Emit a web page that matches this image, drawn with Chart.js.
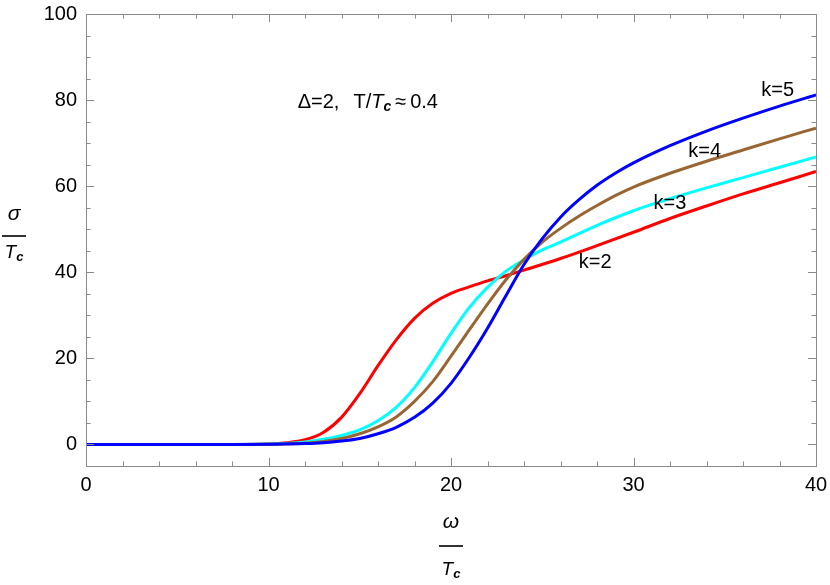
<!DOCTYPE html>
<html>
<head>
<meta charset="utf-8">
<script src="https://cdn.jsdelivr.net/npm/chart.js@4.4.1/dist/chart.umd.min.js"></script>
<style>
  html, body { margin: 0; padding: 0; background: #fff; }
  #wrap { width: 830px; height: 585px; }
</style>
</head>
<body>
<div id="wrap"><canvas id="c"></canvas></div>
<script>
/* σ/Tc vs ω/Tc, Δ=2, T/Tc≈0.4 */

const X_TICKS = [0, 10, 20, 30, 40];
const Y_TICKS = [0, 20, 40, 60, 80, 100];

const X_K2 = [0, 8, 10, 11, 12, 13, 14, 15, 16, 17, 18, 19, 20, 21, 22, 23, 24, 26, 28, 30, 32, 34, 36, 38, 40];
const Y_K2 = [0, 0, 0.1, 0.4, 1.1, 2.8, 6.3, 11.8, 18.3, 24.3, 29.3, 32.8, 35.1, 36.6, 38, 39.2, 40.5, 43.2, 46.2, 49.3, 52.5, 55.4, 58.2, 60.8, 63.4];

const X_K3 = [0, 8, 10, 12, 13, 14, 15, 16, 17, 18, 19, 20, 21, 22, 23, 24, 25, 26, 28, 30, 32, 34, 36, 38, 40];
const Y_K3 = [0, 0, 0.1, 0.6, 1.2, 2.1, 3.4, 5.5, 8.6, 13.2, 19.2, 25.8, 31.8, 36.5, 40.2, 42.9, 45.2, 47.0, 50.9, 54.3, 57.1, 59.6, 62.0, 64.4, 66.8];

const X_K4 = [0, 8, 10, 12, 13, 14, 15, 16, 17, 18, 19, 20, 21, 22, 23, 24, 25, 26, 27, 28, 29, 30, 32, 34, 36, 38, 40];
const Y_K4 = [0, 0, 0.05, 0.3, 0.7, 1.4, 2.5, 4.1, 6.4, 10.0, 14.6, 20.5, 26.6, 32.6, 38.2, 43.0, 47.0, 50.2, 53.0, 55.5, 57.8, 59.8, 63.0, 65.8, 68.4, 71.0, 73.5];

const X_K5 = [0, 8, 10, 12, 13, 14, 15, 16, 17, 18, 19, 20, 21, 22, 23, 24, 25, 26, 27, 28, 29, 30, 32, 34, 36, 38, 40];
const Y_K5 = [0, 0, 0.05, 0.2, 0.4, 0.8, 1.4, 2.5, 4.0, 6.3, 9.6, 14.2, 20.2, 27.0, 34.5, 41.8, 47.8, 52.8, 56.8, 60.2, 63.0, 65.4, 69.4, 72.8, 75.8, 78.6, 81.2];

const CURVE_LABELS = ['k=2', 'k=3', 'k=4', 'k=5'];
const LABEL_X = [27.9, 32.0, 33.9, 37.9];
const LABEL_Y = [42.3, 56.0, 68.1, 82.3];

const NOTE_X = 11.6;
const NOTE_Y = 80;

const FONT = "'Liberation Sans', Arial, sans-serif";
const FRAME = '#8a8a8a';

function pts(xs, ys) {
  return xs.map((x, i) => ({ x: x, y: ys[i] }));
}

function line(label, xs, ys, color, order) {
  return {
    label: label,
    data: pts(xs, ys),
    borderColor: color,
    backgroundColor: color,
    borderWidth: 3,
    pointRadius: 0,
    cubicInterpolationMode: 'monotone',
    fill: false,
    order: order,
  };
}

// frame + inward ticks on all four sides
const framePlugin = {
  id: 'frame',
  afterDraw(chart) {
    const { ctx, chartArea: a, scales } = chart;
    const xs = scales.x, ys = scales.y;
    ctx.save();
    ctx.strokeStyle = FRAME;
    ctx.lineWidth = 1;
    ctx.strokeRect(a.left + 0.5, a.top + 0.5, a.right - a.left, a.bottom - a.top);
    ctx.beginPath();
    for (let v = 0; v <= 40; v += 2) {
      const len = v % 10 === 0 ? 8 : 4.5;
      const px = Math.round(xs.getPixelForValue(v)) + 0.5;
      ctx.moveTo(px, a.bottom); ctx.lineTo(px, a.bottom - len);
      ctx.moveTo(px, a.top); ctx.lineTo(px, a.top + len);
    }
    for (let v = 0; v <= 100; v += 5) {
      const len = v % 20 === 0 ? 8 : 4.5;
      const py = Math.round(ys.getPixelForValue(v)) + 0.5;
      ctx.moveTo(a.left, py); ctx.lineTo(a.left + len, py);
      ctx.moveTo(a.right, py); ctx.lineTo(a.right - len, py);
    }
    ctx.stroke();
    ctx.restore();
  }
};

function drawTc(ctx, cx, base) {
  // italic T with bold italic subscript c, centred at cx
  ctx.font = "italic 19px " + FONT;
  const wT = ctx.measureText('T').width;
  ctx.font = "italic bold 13px " + FONT;
  const wc = ctx.measureText('c').width;
  const x0 = cx - (wT + wc) / 2;
  ctx.textAlign = 'left';
  ctx.textBaseline = 'alphabetic';
  ctx.font = "italic 19px " + FONT;
  ctx.fillText('T', x0, base);
  ctx.font = "italic bold 13px " + FONT;
  ctx.fillText('c', x0 + wT, base + 3);
}

function drawFraction(ctx, cx, lineY, num, gapUp, gapDown) {
  ctx.fillStyle = '#000';
  ctx.font = "italic 21px " + FONT;
  ctx.textAlign = 'center';
  ctx.textBaseline = 'alphabetic';
  ctx.fillText(num, cx, lineY - gapUp);
  ctx.fillRect(cx - 12, lineY - 0.8, 24, 1.6);
  drawTc(ctx, cx, lineY + gapDown + 13);
}

const textPlugin = {
  id: 'texts',
  afterDraw(chart) {
    const { ctx, chartArea: a, scales } = chart;
    const xs = scales.x, ys = scales.y;
    ctx.save();
    ctx.fillStyle = '#000';

    // curve labels
    ctx.font = "20px " + FONT;
    ctx.textAlign = 'center';
    ctx.textBaseline = 'middle';
    CURVE_LABELS.forEach((t, i) => {
      ctx.fillText(t, xs.getPixelForValue(LABEL_X[i]), ys.getPixelForValue(LABEL_Y[i]));
    });

    // annotation
    let x = xs.getPixelForValue(NOTE_X);
    const y = ys.getPixelForValue(NOTE_Y) + 8;
    ctx.textAlign = 'left';
    ctx.textBaseline = 'alphabetic';
    ctx.font = "20px " + FONT;
    const p1 = '\u0394=2,';
    ctx.fillText(p1, x, y);
    x += ctx.measureText(p1).width + 14;
    ctx.fillText('T/', x, y);
    x += ctx.measureText('T/').width;
    ctx.font = "italic 20px " + FONT;
    ctx.fillText('T', x, y);
    x += ctx.measureText('T').width;
    ctx.font = "italic bold 14px " + FONT;
    ctx.fillText('c', x, y + 3);
    x += ctx.measureText('c').width + 4;
    ctx.font = "20px " + FONT;
    ctx.fillText('\u2248', x, y);
    x += ctx.measureText('\u2248').width + 4;
    ctx.fillText('0.4', x, y);

    // axis titles as fractions
    drawFraction(ctx, 14, 236, '\u03c3', 16, 9);
    drawFraction(ctx, (a.left + a.right) / 2, 546, '\u03c9', 18, 16);
    ctx.restore();
  }
};

new Chart(document.getElementById('c'), {
  type: 'line',
  data: {
    datasets: [
      line('k=2', X_K2, Y_K2, '#ff0000', 4),
      line('k=3', X_K3, Y_K3, '#00ffff', 3),
      line('k=4', X_K4, Y_K4, '#996633', 2),
      line('k=5', X_K5, Y_K5, '#0000ff', 1),
    ]
  },
  options: {
    responsive: true,
    maintainAspectRatio: false,
    animation: false,
    layout: { padding: { top: 14, right: 14, left: 0, bottom: 0 } },
    plugins: {
      legend: { display: false },
      tooltip: { enabled: false },
    },
    scales: {
      x: {
        type: 'linear',
        min: 0,
        max: 40,
        afterBuildTicks: s => { s.ticks = X_TICKS.map(v => ({ value: v })); },
        afterFit: s => { s.height = 119; s.paddingLeft = 0; s.paddingRight = 0; },
        grid: { display: false, drawTicks: false },
        border: { display: false },
        ticks: { color: '#000', font: { family: FONT, size: 20 }, padding: 7, maxRotation: 0 },
      },
      y: {
        type: 'linear',
        min: -5,
        max: 100,
        afterBuildTicks: s => { s.ticks = Y_TICKS.map(v => ({ value: v })); },
        afterFit: s => { s.width = 86; s.paddingTop = 0; s.paddingBottom = 0; },
        grid: { display: false, drawTicks: false },
        border: { display: false },
        ticks: { color: '#000', font: { family: FONT, size: 20 }, padding: 9 },
      }
    }
  },
  plugins: [framePlugin, textPlugin]
});
</script>
</body>
</html>
